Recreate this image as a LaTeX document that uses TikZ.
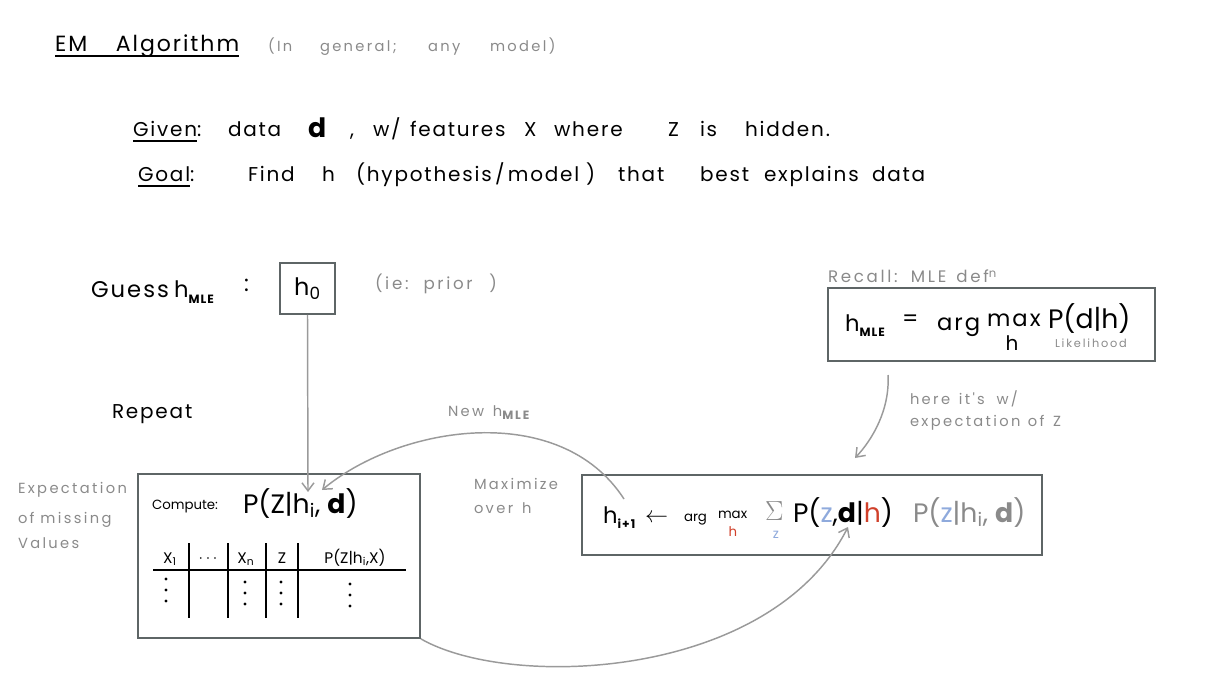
\documentclass[tikz,border=0pt]{standalone}
\usepackage{fontspec}
\setmainfont{Poppins}
\newfontfamily\hand[LetterSpace=9]{Poppins}
\newfontfamily\handw[LetterSpace=16]{Poppins}
\usetikzlibrary{arrows.meta}
\definecolor{txtgray}{HTML}{8A8A8A}
\definecolor{boxgray}{HTML}{5E6566}
\definecolor{arrgray}{HTML}{9A9A9A}
\definecolor{zblue}{HTML}{8FAADC}
\definecolor{hred}{HTML}{D0402A}
\newcommand\subx[1]{\raisebox{-0.4ex}{\fontsize{8.5}{9}\selectfont #1}}
\newcommand\subb[1]{\raisebox{-0.45ex}{\fontsize{9}{10}\selectfont\bfseries #1}}
\begin{document}
\begin{tikzpicture}[x=0.75pt,y=-0.75pt,
  t/.style={anchor=base west,inner sep=0pt,outer sep=0pt},
  tc/.style={anchor=base,inner sep=0pt,outer sep=0pt},
  gr/.style={text=txtgray},
  ftitle/.style={font=\hand\fontsize{16.5}{18}\selectfont},
  fmain/.style={font=\hand\fontsize{15}{17}\selectfont},
  fsmall/.style={font=\handw\fontsize{11}{13}\selectfont},
  fbig/.style={font=\fontsize{20}{22}\selectfont},
  fmid/.style={font=\hand\fontsize{17}{19}\selectfont},
  fform/.style={font=\fontsize{10}{12}\selectfont},
  fhead/.style={font=\fontsize{11.5}{13}\selectfont},
  boxline/.style={draw=boxgray,line width=1.3pt},
  conn/.style={draw=arrgray,line width=1.1pt,-{Straight Barb[length=6pt,width=9pt]}},
  rule/.style={line width=1.2pt,black}]
\useasboundingbox (0,0) rectangle (1209,691);

% title
\node[t,ftitle] (title) at (55,52) {EM\hspace{1.3em}Algorithm};
\draw[rule] ([yshift=-3pt]title.base west) -- ([yshift=-3pt]title.base east);
\node[t,fsmall,gr] (gen1) at (268,52) {(In};
\node[t,fsmall,gr] (gen2) at (320,52) {general;};
\node[t,fsmall,gr] (gen3) at (428,52) {any};
\node[t,fsmall,gr] (gen4) at (490,52) {model)};

% given / goal
\node[t,fmain] (given) at (133,137) {Given};
\node[t,fmain] (gcol) at (given.base east) {:};
\draw[rule] ([yshift=-3pt]given.base west) -- ([yshift=-3pt]given.base east);
\node[t,fmain] (gdata) at (228,137) {data};
\node[t,fbig] (gd) at (308,138) {\textbf{d}};
\node[t,fmain] (gcomma) at (350,137) {,};
\node[t,fmain] (gw) at (373,137) {w/};
\node[t,fmain] (gfeat) at (410,137) {features};
\node[t,fmain] (gx) at (524,137) {X};
\node[t,fmain] (gwhere) at (554,137) {where};
\node[t,fmain] (gz) at (668,137) {Z};
\node[t,fmain] (gis) at (700,137) {is};
\node[t,fmain] (ghid) at (745,137) {hidden.};

\node[t,fmain] (goal) at (138,182) {Goal};
\node[t,fmain] (goalc) at (goal.base east) {:};
\draw[rule] ([yshift=-3pt]goal.base west) -- ([yshift=-3pt]goal.base east);
\node[t,fmain] (find) at (248,182) {Find};
\node[t,fmain] (gh) at (322,182) {h};
\node[t,fmain] (hyp) at (356,182) {(hypothesis\,/\,model\,\,)};
\node[t,fmain] (that) at (618,182) {that};
\node[t,fmain] (best) at (700,182) {best};
\node[t,fmain] (expl) at (764,182) {explains};
\node[t,fmain] (data2) at (872,182) {data};

% guess
\node[t,fmid] (guess) at (91,298) {Guess};
\node[t,fmid] (guessh) at (174,298) {h\subb{MLE}};
\node[t,fmid] (guessc) at (244,292) {:};
\node[boxline,minimum width=55*0.75pt,minimum height=51*0.75pt,inner sep=0pt,font=\fontsize{18}{20}\selectfont] (h0) at (307.5,288.5) {h\textsubscript{0}};
\node[t,gr,font=\handw\fontsize{12.5}{14}\selectfont] (prior) at (375,290) {(ie:\hspace{0.9em}prior\hspace{1em})};

% recall box
\node[t,gr,font=\handw\fontsize{12.5}{14}\selectfont] (recall) at (828,283) {Recall:\hspace{0.8em}MLE\hspace{0.6em}def\textsuperscript{n}};
\node[boxline,minimum width=327*0.75pt,minimum height=73*0.75pt,inner sep=0pt] (mlebox) at (991.5,324.5) {};
\node[t,fmid] (hmle) at (845,331) {h\subb{MLE}};
\node[t,fmid] (eq) at (902,326) {=};
\node[t,fmid] (argm) at (937,330) {arg};
\node[t,fmid] (maxm) at (987,327) {max};
\node[tc,font=\fontsize{15}{16}\selectfont] (hmax) at (1012,350) {h};
\node[t,fbig] (pdh) at (1048,329) {P(d|h)};
\node[t,font=\handw\fontsize{8.5}{10}\selectfont,gr] (lik) at (1055,348) {Likelihood};

% repeat and notes
\node[t,fmain] (repeat) at (112,418) {Repeat};
\node[t,fsmall,gr] (newh) at (448,416) {New\hspace{0.6em}h\subb{MLE}};
\node[t,fsmall,gr] (here1) at (910,404) {here\hspace{0.6em}it's\hspace{0.8em}w/};
\node[t,fsmall,gr] (here2) at (910,426) {expectation\hspace{0.5em}of\hspace{0.6em}Z};
\node[t,fsmall,gr] (exp1) at (18,493) {Expectation};
\node[t,fsmall,gr] (exp2) at (18,523) {of\hspace{0.4em}missing};
\node[t,fsmall,gr] (exp3) at (18,548) {Values};
\node[t,fsmall,gr] (max1) at (474,489) {Maximize};
\node[t,fsmall,gr] (max2) at (474,513) {over\hspace{0.6em}h};

% left box
\node[boxline,minimum width=282*0.75pt,minimum height=164*0.75pt,inner sep=0pt] (ebox) at (279,556) {};
\node[t,fform] (compute) at (152,509) {Compute:};
\node[t,fbig] (pz) at (243,513) {P(Z|h\textsubscript{i}, \textbf{d})};
\node[tc,fhead] (c1) at (170,563) {X\textsubscript{1}};
\node[tc,fhead] (c2) at (208,562) {$\cdots$};
\node[tc,fhead] (c3) at (246,563) {X\textsubscript{n}};
\node[tc,fhead] (c4) at (282,563) {Z};
\node[tc,fhead] (c5) at (355,563) {P(Z|h\textsubscript{i},X)};
\coordinate (hl1) at (153,570);
\coordinate (hl2) at (406,570);
\draw[rule] (hl1) -- (hl2);
\foreach \xx/\nm in {189/v1,228/v2,266/v3,298/v4}{
  \coordinate (\nm a) at (\xx,543);
  \coordinate (\nm b) at (\xx,618);
  \draw[rule] (\nm a) -- (\nm b);
}
\foreach \xx/\yy in {166/579,245/582,281/582,350/584}{
  \fill (\xx,\yy) circle[radius=1.6];
  \fill (\xx,\yy+11) circle[radius=1.6];
  \fill (\xx,\yy+22) circle[radius=1.6];
}

% right box
\node[boxline,minimum width=460*0.75pt,minimum height=80*0.75pt,inner sep=0pt] (mbox) at (812,515) {};
\node[t,fmid] (hi1) at (603,523) {h\subb{i+1}};
\node[t,fmid] (larr) at (645,522) {$\leftarrow$};
\node[t,fform] (arg2) at (684,521) {arg};
\node[t,fform] (max3) at (718,518) {max};
\node[tc,fform,text=hred] (hred) at (733,536) {h};
\node[t,fbig,gr] (sig) at (765,520) {$\Sigma$};
\node[tc,fform,text=zblue] (zsum) at (776,538) {z};
\node[t,fbig] (pz2) at (793,522) {P(\textcolor{zblue}{z},\textbf{d}|\textcolor{hred}{h})};
\node[t,fbig,gr] (pz3) at (913,522) {P(\textcolor{zblue}{z}|h\textsubscript{i}, \textbf{d})};

% connectors
\draw[conn] (h0.south) -- (308,492);
\coordinate (nstart) at (624,499);
\coordinate (nend) at (322,490);
\draw[conn] (nstart) .. controls (560,400) and (400,425) .. (nend);
\coordinate (bend) at (848,527);
\draw[conn] (ebox.south east) .. controls (510,690) and (770,680) .. (bend);
\coordinate (rstart) at (888,375);
\coordinate (rend) at (855,458);
\draw[conn] (rstart) .. controls (890,410) and (872,440) .. (rend);
\end{tikzpicture}
\end{document}
